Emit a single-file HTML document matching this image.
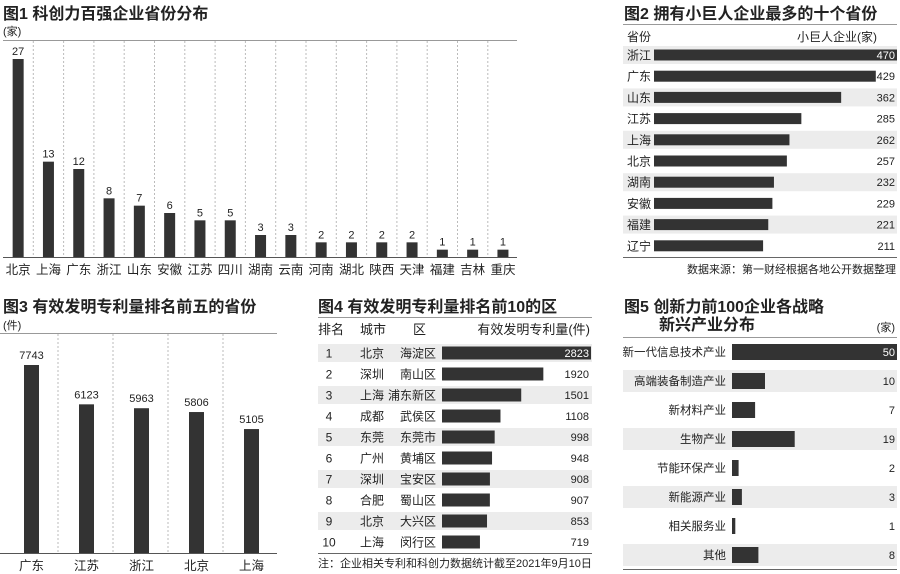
<!DOCTYPE html>
<html><head><meta charset="utf-8">
<style>
html,body{margin:0;padding:0;background:#fff;}
svg{display:block;font-family:"Liberation Sans","Noto Sans CJK SC",sans-serif;}
</style></head>
<body>
<svg id="s" width="900" height="574" viewBox="0 0 900 574" xmlns="http://www.w3.org/2000/svg">
<g fill="#222">
<text x="3" y="19" font-size="16" font-weight="bold">图1 科创力百强企业省份分布</text>
<text x="3" y="35" font-size="11">(家)</text>
<text x="624" y="19" font-size="16" font-weight="bold">图2 拥有小巨人企业最多的十个省份</text>
<text x="627" y="41" font-size="12">省份</text>
<text x="877" y="41" font-size="12" text-anchor="end">小巨人企业(家)</text>
<text x="896" y="273" font-size="11" text-anchor="end">数据来源：第一财经根据各地公开数据整理</text>
<text x="3" y="312" font-size="16" font-weight="bold">图3 有效发明专利量排名前五的省份</text>
<text x="3" y="329" font-size="11">(件)</text>
<text x="318" y="312" font-size="16" font-weight="bold">图4 有效发明专利量排名前10的区</text>
<text x="318" y="334" font-size="13">排名</text>
<text x="360" y="334" font-size="13">城市</text>
<text x="413" y="334" font-size="13">区</text>
<text x="590" y="334" font-size="13" text-anchor="end">有效发明专利量(件)</text>
<text x="318" y="567" font-size="11">注：企业相关专利和科创力数据统计截至2021年9月10日</text>
<text x="624" y="312" font-size="16" font-weight="bold">图5  创新力前100企业各战略</text>
<text x="659" y="330" font-size="16" font-weight="bold">新兴产业分布</text>
<text x="895" y="331" font-size="11" text-anchor="end">(家)</text>
</g>
<g stroke="#999" stroke-width="1">
<line x1="3" y1="40.5" x2="517" y2="40.5"/>
<line x1="623" y1="24.5" x2="897" y2="24.5"/>
<line x1="623" y1="257.5" x2="897" y2="257.5" stroke="#666"/>
<line x1="0" y1="333.5" x2="277" y2="333.5"/>
<line x1="318" y1="317.5" x2="592" y2="317.5"/>
<line x1="318" y1="553.5" x2="592" y2="553.5" stroke="#666"/>
<line x1="623" y1="337.5" x2="897" y2="337.5"/>
<line x1="623" y1="569.5" x2="897" y2="569.5" stroke="#666"/>
</g>
<g id="g1"></g><g id="g2"></g><g id="g3"></g><g id="g4"></g><g id="g5"></g>
</svg>
<script>
const fig1Categories=["北京","上海","广东","浙江","山东","安徽","江苏","四川","湖南","云南","河南","湖北","陕西","天津","福建","吉林","重庆"];
const fig1Values=[27,13,12,8,7,6,5,5,3,3,2,2,2,2,1,1,1];
const fig2Categories=["浙江","广东","山东","江苏","上海","北京","湖南","安徽","福建","辽宁"];
const fig2Values=[470,429,362,285,262,257,232,229,221,211];
const fig3Categories=["广东","江苏","浙江","北京","上海"];
const fig3Values=[7743,6123,5963,5806,5105];
const fig4Ranks=["1","2","3","4","5","6","7","8","9","10"];
const fig4Cities=["北京","深圳","上海","成都","东莞","广州","深圳","合肥","北京","上海"];
const fig4Districts=["海淀区","南山区","浦东新区","武侯区","东莞市","黄埔区","宝安区","蜀山区","大兴区","闵行区"];
const fig4Values=[2823,1920,1501,1108,998,948,908,907,853,719];
const fig5Categories=["新一代信息技术产业","高端装备制造产业","新材料产业","生物产业","节能环保产业","新能源产业","相关服务业","其他"];
const fig5Values=[50,10,7,19,2,3,1,8];

const NS="http://www.w3.org/2000/svg";
function mk(parent,tag,attrs,text){const e=document.createElementNS(NS,tag);for(const k in attrs)e.setAttribute(k,attrs[k]);if(text!==undefined)e.textContent=text;parent.appendChild(e);return e;}
const DARK="#333",TXT="#222",GRAY="#ececec";

// Fig1
(function(){
 const g=document.getElementById('g1');
 const x0=3,cw=30.3,base=257,top=59,max=27;
 const y=v=>base-(base-top)*v/max;
 for(let i=1;i<fig1Categories.length;i++){
  const l=mk(g,'line',{x1:x0+i*cw,y1:41,x2:x0+i*cw,y2:base,stroke:'#bbb','stroke-dasharray':'2,2'});
  
  
 }
 const bl=mk(g,'line',{x1:x0,y1:base+.5,x2:517,y2:base+.5,stroke:'#555'});
 
 
 fig1Categories.forEach((c,i)=>{
  const cx=x0+cw*(i+.5),v=fig1Values[i];
  const r=mk(g,'rect',{x:cx-5.5,y:y(v),width:11,height:base-y(v),fill:DARK});
  
  
  const t=mk(g,'text',{x:cx,y:y(v)-4,'font-size':11,'text-anchor':'middle',fill:TXT},String(v));
  
  
  const lb=mk(g,'text',{x:cx,y:274,'font-size':12.5,'text-anchor':'middle',fill:TXT},c);
  
  
 });
})();

// Fig2
(function(){
 const g=document.getElementById('g2');
 const bx=654,scale=243/470,y0=55,step=21.2;
 fig2Categories.forEach((c,i)=>{
  const cy=y0+i*step,v=fig2Values[i];
  if(i%2===0){const bg=mk(g,'rect',{x:623,y:cy-9,width:274,height:18,fill:GRAY});
   
   }
  const r=mk(g,'rect',{x:bx,y:cy-5.5,width:v*scale,height:11,fill:DARK});
  
  
  const lb=mk(g,'text',{x:627,y:cy+4.5,'font-size':12,fill:TXT},c);
  
  
  const inside=bx+v*scale>885;
  const t=mk(g,'text',{x:895,y:cy+4,'font-size':11,'text-anchor':'end',fill:inside?'#fff':TXT},String(v));
  
  
 });
})();

// Fig3
(function(){
 const g=document.getElementById('g3');
 const x0=3,cw=55,base=553,top=365,max=7743;
 const y=v=>base-(base-top)*v/max;
 for(let i=1;i<fig3Categories.length;i++){
  const l=mk(g,'line',{x1:x0+i*cw,y1:334,x2:x0+i*cw,y2:base,stroke:'#bbb','stroke-dasharray':'2,2'});
  
  
 }
 const bl=mk(g,'line',{x1:0,y1:base+.5,x2:277,y2:base+.5,stroke:'#555'});
 
 
 fig3Categories.forEach((c,i)=>{
  const cx=x0+cw*(i+.5)+1,v=fig3Values[i];
  const r=mk(g,'rect',{x:cx-7.5,y:y(v),width:15,height:base-y(v),fill:DARK});
  
  
  const t=mk(g,'text',{x:cx,y:y(v)-6,'font-size':11,'text-anchor':'middle',fill:TXT},String(v));
  
  
  const lb=mk(g,'text',{x:cx,y:570,'font-size':12.5,'text-anchor':'middle',fill:TXT},c);
  
  
 });
})();

// Fig4
(function(){
 const g=document.getElementById('g4');
 const bx=442,scale=149/2823,y0=353,step=21;
 fig4Ranks.forEach((rk,i)=>{
  const cy=y0+i*step,v=fig4Values[i];
  if(i%2===0){const bg=mk(g,'rect',{x:318,y:cy-9,width:274,height:18,fill:GRAY});
   
   }
  const r=mk(g,'rect',{x:bx,y:cy-6.5,width:v*scale,height:13,fill:DARK});
  
  
  const a=mk(g,'text',{x:329,y:cy+4.5,'font-size':12,'text-anchor':'middle',fill:TXT},rk);
  
  
  const b=mk(g,'text',{x:360,y:cy+4.5,'font-size':12,fill:TXT},fig4Cities[i]);
  
  
  const d=mk(g,'text',{x:436,y:cy+4.5,'font-size':12,'text-anchor':'end',fill:TXT},fig4Districts[i]);
  
  
  const inside=bx+v*scale>560;
  const t=mk(g,'text',{x:589,y:cy+4,'font-size':11,'text-anchor':'end',fill:inside?'#fff':TXT},String(v));
  
  
 });
})();

// Fig5
(function(){
 const g=document.getElementById('g5');
 const bx=732,scale=165/50,y0=352,step=29;
 fig5Categories.forEach((c,i)=>{
  const cy=y0+i*step,v=fig5Values[i];
  if(i%2===1){const bg=mk(g,'rect',{x:623,y:cy-11,width:274,height:22,fill:GRAY});
   
   }
  const r=mk(g,'rect',{x:bx,y:cy-8,width:v*scale,height:16,fill:DARK});
  
  
  const lb=mk(g,'text',{x:726,y:cy+4,'font-size':11.5,'text-anchor':'end',fill:TXT},c);
  
  
  const inside=bx+v*scale>870;
  const t=mk(g,'text',{x:895,y:cy+4,'font-size':11,'text-anchor':'end',fill:inside?'#fff':TXT},String(v));
  
  
 });
})();
</script>
</body></html>
